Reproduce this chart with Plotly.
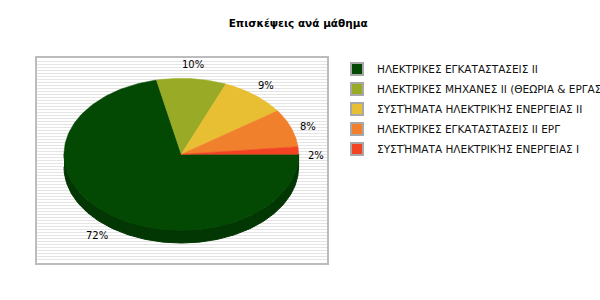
import numpy as np
import plotly.graph_objects as go

title = "Επισκέψεις ανά μάθημα"
categories = [
    "ΗΛΕΚΤΡΙΚΕΣ ΕΓΚΑΤΑΣΤΑΣΕΙΣ ΙΙ",
    "ΗΛΕΚΤΡΙΚΕΣ ΜΗΧΑΝΕΣ ΙΙ (ΘΕΩΡΙΑ & ΕΡΓΑΣΤΗΡΙΟ)",
    "ΣΥΣΤΉΜΑΤΑ ΗΛΕΚΤΡΙΚΉΣ ΕΝΕΡΓΕΙΑΣ ΙΙ",
    "ΗΛΕΚΤΡΙΚΕΣ ΕΓΚΑΤΑΣΤΑΣΕΙΣ ΙΙ ΕΡΓ",
    "ΣΥΣΤΉΜΑΤΑ ΗΛΕΚΤΡΙΚΉΣ ΕΝΕΡΓΕΙΑΣ Ι",
]
values = [71.6, 9.6, 9.1, 8.1, 1.6]
top_colors = ["#034903", "#98aa26", "#e8be32", "#f0802c", "#f24422"]
side_colors = ["#023602", "#72801c", "#ae8e25", "#b46021", "#b53319"]

# geometry in pixel units of the plot box
X0, X1, Y0, Y1 = 37, 327, 58, 263
cx, cy, rx, ry, depth = 181.3, 154.3, 117.3, 76.0, 12.7
lrx, lry, loff = 135.0, 96.0, 6.0

total = sum(values)
fig = go.Figure()

slices = []
cum = 0.0
for v in values:
    a1 = 360.0 - cum / total * 360.0
    a0 = 360.0 - (cum + v) / total * 360.0
    slices.append((a0, a1))
    cum += v

# sides (visible lower half)
for (a0, a1), col in zip(slices, side_colors):
    s0, s1 = max(a0, 180.0), min(a1, 360.0)
    if s0 < s1:
        t = np.radians(np.linspace(s0, s1, 200))
        xs = np.concatenate([cx + rx * np.cos(t), (cx + rx * np.cos(t))[::-1]])
        ys = np.concatenate([cy - ry * np.sin(t), (cy - ry * np.sin(t) + depth)[::-1]])
        fig.add_trace(go.Scatter(x=xs, y=ys, mode="lines", fill="toself",
                                 fillcolor=col, line=dict(color=col, width=1),
                                 showlegend=False, hoverinfo="skip"))

# top faces
for (a0, a1), col in zip(slices, top_colors):
    t = np.radians(np.linspace(a0, a1, 200))
    xs = np.concatenate([[cx], cx + rx * np.cos(t), [cx]])
    ys = np.concatenate([[cy], cy - ry * np.sin(t), [cy]])
    fig.add_trace(go.Scatter(x=xs, y=ys, mode="lines", fill="toself",
                             fillcolor=col, line=dict(color=col, width=0.5),
                             showlegend=False, hoverinfo="skip"))

# legend entries
for i, (name, col) in enumerate(zip(categories, top_colors)):
    fig.add_trace(go.Scatter(x=[None], y=[None], mode="markers", name=name,
                             legendgroup=f"g{i}",
                             marker=dict(symbol="square", size=12, color=col,
                                         line=dict(color="#a8a8a8", width=2))))

# percentage labels
for (a0, a1), v in zip(slices, values):
    m = np.radians((a0 + a1) / 2)
    fig.add_annotation(x=cx + lrx * np.cos(m), y=cy - lry * np.sin(m) + loff,
                       text=f"{round(v)}%", showarrow=False,
                       font=dict(family="DejaVu Sans", size=10, color="#000000"),
                       xanchor="center", yanchor="middle")

fig.update_layout(
    width=600, height=300,
    margin=dict(l=0, r=0, t=0, b=0, autoexpand=False),
    paper_bgcolor="white", plot_bgcolor="white",
    title=dict(text=f"<b>{title}</b>", x=0.497, xanchor="center",
               y=1 - 23 / 300, yanchor="middle",
               font=dict(family="DejaVu Sans", size=10.5, color="#000000")),
    font=dict(family="DejaVu Sans", size=10, color="#111111"),
    legend=dict(x=337 / 600, xanchor="left", y=1 - 54.5 / 300, yanchor="top",
                bgcolor="rgba(0,0,0,0)", borderwidth=0, tracegroupgap=1,
                font=dict(family="DejaVu Sans", size=10.5, color="#111111")),
    xaxis=dict(domain=[X0 / 600, X1 / 600], range=[X0, X1], showgrid=False,
               zeroline=False, showticklabels=False, ticks="", showline=True,
               mirror=True, linewidth=2, linecolor="#bcbcbc", fixedrange=True),
    yaxis=dict(domain=[(300 - Y1) / 300, (300 - Y0) / 300], range=[Y1, Y0],
               showgrid=True, gridcolor="#e4e4e4", gridwidth=1, tick0=Y0, dtick=3,
               zeroline=False, showticklabels=False, ticks="", showline=True,
               mirror=True, linewidth=2, linecolor="#bcbcbc", fixedrange=True),
    showlegend=True,
)

fig.write_html("out.html")
